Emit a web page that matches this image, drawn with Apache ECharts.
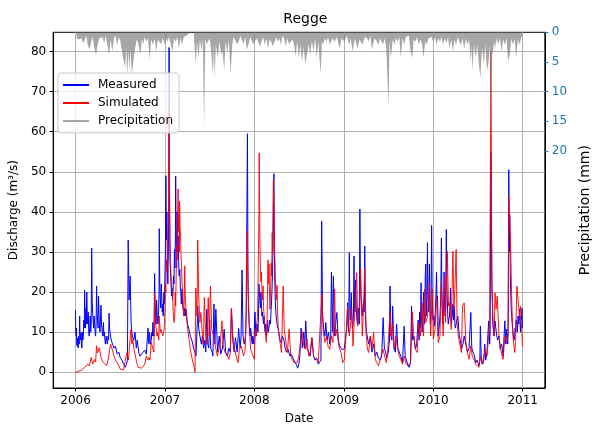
<!DOCTYPE html>
<html lang="en">
<head>
<meta charset="UTF-8">
<title>Regge</title>
<script src="https://cdn.jsdelivr.net/npm/echarts@6/dist/echarts.min.js"></script>
<style>
  html, body { margin: 0; padding: 0; background: #fff; }
  #main { width: 600px; height: 430px; }
</style>
</head>
<body>
<div id="main"></div>
<script>
// day offsets from 2006-01-01
var startDay = Date.UTC(2006, 0, 1);
var yearTicks = ['2006', '2007', '2008', '2009', '2010', '2011'];
var dischargeTicks = [0, 10, 20, 30, 40, 50, 60, 70, 80];
var precipTicks = [0, 5, 10, 15, 20];

// measured discharge (m3/s)
var measured = [[0,15.4],[1,10],[3,9],[4,11],[5,7],[7,6.5],[8,8.5],[10,7],[11,6],[12,8],[13,9],[15,7],[17,14],[18,10],[20,9],[21,8],[23,10],[24,7],[26,6],[28,10],[30,8],[32,9],[34,13],[36,11],[37,20.5],[39,14],[41,11],[43,16],[44,12],[46,20],[48,14],[50,12],[52,15],[54,10],[56,9],[58,11],[60,14],[62,10],[64,12],[66,31],[68,18],[70,15],[72,13],[74,11],[76,14],[78,12],[80,10],[82,9],[84,12],[86,21.5],[88,15],[90,13],[92,11],[94,19],[96,14],[98,11],[100,10],[102,13],[104,16.7],[106,12],[108,11],[109,10],[111,9],[114,12.4],[116,9],[118,10],[120,8],[122,7],[125,9],[127,8],[130,7],[133,9],[135,8],[137,14.7],[139,11],[141,10],[143,9],[146,8],
[151,7],[157,6],[163,6.5],[170,4.5],[177,5],[183,3.5],[190,3],[196,2],[203,1.2],[208,2],[212,3],[215,33],[219,18],[223,24],[227,12],[232,9],[238,8],[243,10],[248,6],[252,8],[258,5],[263,4],[269,4],[276,5],[283,5.5],[289,4.5],[296,11],[298,8],[300,7],[302,10],[304,9],[306,7],[309,8],[312,10],[314,9],[316,12.4],[318,10],[320,9],[321,12],[323,24.6],[325,17],[327,14],[329,12],[331,18],[333,15],[335,13],[337,12],[339,15],[341,20],[342,35.8],[344,22],[346,18],[348,16],[350,22],[352,19],[354,15],[356,17],[358,14],[361,20],[363,17],
[365,24],[367,30],[369,49],[371,33],[373,40],[375,28],[377,22],[379,30],[381,45],[382,81],[384,40],[386,28],[388,25],[390,22],[392,19],[394,21],[396,18],[398,20],[400,24],[402,22],[404,30.6],[406,26],[408,35],[409,48.9],[411,32],[413,26],[415,40],[417,30],[419,34],[421,28],[423,24],[426,25.6],[428,21],[430,20],[432,17],[435,20.7],[437,17],[439,16],[441,15],[443,14],[446,16],[448,14],[451,15.7],[457,12],[462,11],[469,9],[475,8],[482,6],[487,5],[492,4],[497,12],[499,16.5],[503,11],[508,9],[514,7],[518,9],[523,6],[528,8],[532,5],[536,15.7],[540,7],[544,6],[548,13],[552,6],[558,5],[561,4],[565,17],[569,7],[573,15.7],[580,5],[587,9],[593,4.5],[600,6],[607,10.7],[613,5],[620,4],[626,6],[632,5],[637,15.8],[642,8],[648,5],[653,8.6],[660,5],[666,10.9],[672,6],[676,9],[680,25.5],[684,9],[689,7],[694,9],[697,15],[699,33],[702,59.5],[704,28],[705,20],[707,15],[709,12],[711,10],[713,9],[715,11],[717,10],[719,8],[722,7],[724,9],[726,8],[728,7],
[730,10],[731,13],[733,15],[735,11],[737,9],[739,10],[741,12],[743,11],[745,10],[747,14],[749,22],[751,20],[753,18],[755,16],[757,20],[759,17],[761,14],[763,15],[766,13],[768,12],[770,14],[772,11],[775,10],[777,12],[779,9],[782,10],[784,13],[786,11],[788,10],[791,10],[793,13],[796,12],[798,15],[800,17],[802,20],[804,24],[806,30],[808,38],[810,49.5],[812,30],[814,22],[816,17],[819,14],[821,13],[824,11.5],[827,11],[830,10],[835,8],[840,7.4],[845,9],[851,8],[856,6],[861,5],[868,5.7],[875,4],[881,4.5],[888,3.5],[895,2.5],[901,2],[907,1],[912,2],[916,4],[921,11],[926,6],[932,10],[936,6],[940,12.8],[945,6],[952,5],[958,4],[965,8.6],[972,4],[978,3],[985,3.5],[991,2],[998,2.4],[1002,3],[1005,37.7],[1009,14],[1013,11],[1018,9],[1022,12.4],[1027,8],[1033,10],[1038,7],[1042,9],[1045,25],[1049,10],[1053,24],[1057,9],[1062,12],[1067,14.9],[1073,8],[1078,6.6],[1084,6],[1091,5.5],
[1098,6],[1104,9],[1107,11],[1109,13],[1111,17.3],[1113,12],[1115,10],[1116,14],[1118,29.8],[1120,17],[1122,13],[1124,15],[1126,19.8],[1128,14],[1131,11],[1133,12],[1135,14],[1137,29],[1139,19],[1141,15],[1142,18],[1144,23],[1146,16],[1149,13],[1151,12],[1153,14],[1155,16],[1157,13],[1159,12],[1161,40.7],[1163,25],[1165,20],[1167,16],[1169,15],[1171,14],[1173,16],[1176,18],[1178,15],[1180,20],[1181,31.5],[1183,16],[1185,12],[1188,10],[1191,9],[1197,7],[1204,9],[1210,5],[1217,7],[1224,4],[1230,5],[1237,3.5],[1244,3],[1250,4],[1256,13.6],[1261,6],[1266,5],[1271,3.5],[1277,5],[1282,8],[1284,21.5],[1288,9],[1292,8],[1295,16.5],[1300,6],[1306,5],[1311,12],[1316,6],[1322,5.7],[1328,4],[1335,2.4],[1342,11.5],[1346,4],[1351,3],[1356,2],[1362,1.2],[1368,2.4],[1372,16.5],[1376,8],[1381,9],[1388,5.7],[1393,7],[1399,13],[1401,10],[1403,8],[1405,15],[1407,11],[1409,14],[1411,22.3],[1413,13],[1415,10],[1417,12],[1419,15],[1421,20],[1423,14],[1425,12],[1427,16],[1428,24],[1430,27],[1432,17],[1433,14],[1435,18],[1437,32.3],[1439,20],[1441,15],[1443,18],[1445,27],[1447,16],[1449,12],[1451,15],[1452,22],[1454,36.6],[1456,20],[1458,15],[1460,13],
[1463,14],[1465,11.5],[1467,13],[1470,16],[1472,20],[1474,25],[1476,18],[1478,19],[1480,13],[1481,9],[1484,11],[1486,12],[1488,14],[1491,18],[1494,33.5],[1496,20],[1498,15],[1500,13],[1501,12],[1503,16],[1505,25],[1507,17],[1509,14],[1511,16],[1512,22],[1514,35.6],[1516,22],[1518,18],[1520,14],[1522,12],[1524,13],[1527,14],[1529,16],[1531,21],[1533,15],[1535,12],[1538,14],[1541,17],[1544,13],[1547,16.5],[1549,12],[1551,11],[1557,13],[1561,14],[1567,9],[1571,8],[1576,5.7],[1582,7],[1587,9],[1594,7],[1600,5],[1607,6],[1614,14.9],[1618,6],[1623,5],[1627,4.5],[1634,2.4],[1640,3],[1647,1.6],[1651,3],[1653,11.5],[1657,3],[1663,2],[1667,3],[1671,7],[1675,3],[1680,5],[1687,12.8],[1691,7],[1693,10],[1696,55],[1700,22],[1704,12],[1709,9],[1713,12.8],[1718,10],[1723,8],[1729,9],[1734,5.7],[1740,7],[1746,4],[1753,12.8],[1757,7],[1760,10.7],[1765,7],[1767,15],[1769,50.5],[1771,30],[1773,39.3],[1775,25],[1777,20],[1779,16],[1781,14],[1783,12],[1786,10],[1788,9],[1791,8],[1793,9],[1795,11],[1797,10],[1799,13],[1802,12],[1804,10],[1807,14],[1809,12],[1811,13],[1813,15.7],[1815,12],[1817,10],[1819,14],[1821,13],[1823,16],[1825,11]];

// simulated discharge (m3/s)
var simulated = [[0,0],[11,0.2],[24,0.5],[37,1.2],[44,1.5],[50,2],[57,1.5],[64,3.7],[70,2],[77,3.2],[82,2.5],[86,6.6],[90,4.8],[97,6.1],[104,3.7],[109,3],[114,2.4],[121,2],[127,1.6],[133,3],[137,3.2],[143,7],[150,5.7],[157,4],[163,3],[170,2.4],[177,1.5],[183,0.75],[190,0.6],[196,0.6],[203,0.8],[210,4.9],[216,3],[220,6.1],[226,10.7],[230,7],[234,8.2],[238,6],[243,5.7],[250,2.4],[256,1.2],[263,1.2],[269,1],[276,1.2],[283,2],[289,4],[295,3],[299,3.7],[304,3],[309,7.4],[316,7.4],[320,5],[323,19.8],[327,12],[329,12.4],[333,9],[336,9.9],[340,8],[342,14],[346,10],[349,10.7],[356,9],[362,10.7],
[365,15.7],[367,22],[369,19.8],[371,28],[373,25],[376,31.5],[378,36],[380,40.6],[382,66],[384,45],[386,32],[388,27],[390,24],[393,21],[396,19.8],[399,15],[402,12.4],[405,14],[407,20],[409,16.5],[411,24],[413,31.5],[415,28],[417,39],[419,45.7],[421,35],[422,39],[424,30],[425,42.6],[427,36],[429,34],[431,29],[433,26.5],[435,22],[438,19.8],[440,16],[442,14],[444,18],[446,26.5],[448,19],[451,15.7],[458,10.7],[465,7.4],[471,4.9],[478,2.8],[485,1.2],[488,0],[491,21],[496,14],[499,33],[503,19],[508,12.4],[512,14.9],[518,9],[522,7],[526,18.6],[532,9],[536,7],[542,18.6],[546,9],[551,21.5],[556,10.7],[564,9],[571,6.5],[579,4],[585,5.7],[591,7],[598,12.8],[603,6.5],[611,4.9],[620,4],[626,3.2],[632,5],[636,15.9],[642,9],[650,5.7],[656,4],[664,2.4],[669,5.7],[677,6.5],[686,4],[693,5.7],[697,15.3],[699,35.2],[703,24],[709,12.4],[715,5.7],[722,4.5],
[730,3.2],[733,8],[735,10.7],[738,9],[740,12],[743,14],[745,20],[747,30.6],[749,40],[750,54.7],[752,38],[753,32],[755,26],[757,22.6],[759,25],[761,20.7],[763,18],[766,21.5],[768,16],[770,14],[772,12.4],[775,10],[779,7.4],[782,12],[784,20],[786,28],[788,22],[790,27],[792,20],[794,15.7],[796,19],[799,27.3],[801,24],[803,34.8],[805,30],[806,40],[808,48],[810,40],[812,33],[814,28],[816,24],[818,20],[820,18],[823,21.7],[825,15],[828,10.7],[835,7.4],[841,4.9],[848,21.5],[852,10.7],[859,10.7],[865,4.9],[872,10.7],[879,4],[885,3.2],[892,2.4],[899,2],[905,2.4],[912,4],[921,9],[925,10.3],[932,6.5],[938,5.7],[945,8.3],[952,4],[958,4.9],[965,8.6],[972,4],[978,3.6],[985,3.2],[991,2.4],[998,2.4],[1006,19.4],[1011,10.7],[1018,7.4],[1025,9],[1031,6.5],[1038,5.7],[1045,9],[1051,7.4],[1058,20.7],[1062,9],[1067,10.7],[1075,6.5],[1084,4.9],[1091,2.4],
[1098,3.2],[1104,9],[1111,16.5],[1118,9],[1122,11.5],[1128,15.7],[1133,6.5],[1141,16.5],[1148,24.8],[1153,11.5],[1159,16.5],[1164,25.6],[1171,9],[1177,18.2],[1181,26],[1187,9],[1192,5.7],[1197,4.9],[1204,9],[1210,5.7],[1217,9.9],[1224,3.2],[1230,2.4],[1237,1.6],[1244,3.2],[1249,3.2],[1256,5.7],[1262,4],[1269,2.4],[1275,5.7],[1284,14.9],[1288,9],[1295,12],[1302,5.7],[1308,9],[1315,5.7],[1322,4],[1328,3.2],[1335,2],[1342,4],[1348,2.4],[1355,1.6],[1361,1.2],[1368,2.4],[1375,14.9],[1381,9],[1388,5.7],[1395,4.9],[1401,12.4],[1408,9],[1415,17.3],[1421,9],[1425,20.7],[1430,12.4],[1437,14],[1441,17.3],[1445,22.3],[1450,9],[1457,20.7],
[1461,8.3],[1468,10.7],[1474,19],[1481,7.4],[1488,9],[1494,22.3],[1501,9],[1507,24],[1511,12.4],[1518,30.2],[1523,16.5],[1527,17.3],[1534,10.7],[1541,30.2],[1545,15.7],[1549,20.7],[1554,30.6],[1558,12.4],[1563,9],[1571,6.5],[1576,4.9],[1580,16.5],[1587,17.3],[1594,7.4],[1600,4.9],[1607,3.2],[1614,6.5],[1620,4],[1627,3.2],[1634,2],[1640,1.6],[1647,1.2],[1653,4],[1660,2],[1667,2.4],[1673,5.7],[1680,4],[1687,9],[1691,12.4],[1696,80],[1700,23],[1704,14],[1709,9],[1713,19.8],[1717,15.7],[1722,19],[1729,9],[1736,5.7],[1742,4],[1746,3.2],[1753,9],[1760,7.4],[1766,9],[1769,43.9],[1773,38],[1777,30.6],[1781,18],[1786,9],[1793,4.9],[1797,7.4],[1802,21.5],[1807,18],[1813,14],[1817,16.5],[1822,10.3],[1825,6.4]];

// precipitation (mm)
var precipitation = [[4,1.0],[13,1.2],[24,1.0],[31,1.8],[37,1.3],[44,0.6],[50,2.1],[57,2.9],[64,1.6],[70,0.8],[77,2.7],[84,3.8],[90,2.1],[97,1.0],[104,1.3],[110,0.8],[117,1.8],[123,0.6],[130,2.1],[137,3.8],[143,1.2],[150,3.2],[157,1.0],[163,0.5],[170,2.1],[177,0.8],[183,1.5],[190,3.2],[196,4.6],[203,6.0],[207,2.5],[212,7.1],[216,3.0],[220,6.5],[224,2.8],[230,7.1],[236,4.9],[243,2.7],[250,1.2],[256,1.8],[265,3.8],[271,1.0],[276,2.1],[283,0.8],[289,1.6],[296,1.0],[303,4.6],[309,1.2],[316,2.1],[323,1.0],[329,3.2],[336,1.2],[342,1.6],[349,2.0],[356,1.0],
[365,2.1],[370,1.0],[376,1.6],[382,0.8],[389,2.0],[396,3.2],[402,1.0],[409,1.6],[415,0.8],[422,2.7],[429,1.0],[435,2.1],[442,0.8],[449,1.0],[455,0.5],[462,0.4],[469,0],[475,0],[482,0],[488,0.3],[491,5.4],[496,1.5],[502,4.3],[508,1.2],[515,3.2],[520,1.0],[525,16],[530,1.0],[535,2.0],[542,2.1],[548,1.0],[554,3.2],[561,7.1],[565,2.0],[568,8],[573,2.0],[581,4.3],[588,1.5],[595,3.8],[600,3.0],[607,6.3],[613,1.5],[620,3.5],[626,1.2],[633,7.1],[640,2.1],[646,0.8],[653,1.0],[660,2.0],[666,1.6],[673,0.6],[680,1.3],[686,2.0],[693,0.8],[699,2.9],[706,2.1],[713,0.8],[719,1.0],[726,2.0],
[733,2.1],[739,1.0],[746,1.6],[753,2.4],[759,1.6],[766,0.8],[772,2.1],[779,1.0],[786,2.7],[792,1.2],[799,1.6],[806,2.4],[812,2.1],[819,0.8],[826,1.6],[832,1.0],[839,2.1],[845,0.6],[852,1.0],[859,2.4],[865,1.0],[872,2.0],[879,2.1],[885,1.2],[892,2.0],[899,4.0],[905,1.5],[912,4.3],[918,2.0],[925,4.9],[932,2.4],[938,5.4],[945,5.2],[952,2.0],[958,3.8],[965,1.5],[972,3.2],[978,1.0],[985,4.3],[991,1.5],[1001,7.1],[1006,1.5],[1011,2.1],[1018,1.0],[1025,1.6],[1031,0.8],[1038,2.1],[1049,1.0],[1058,1.6],[1067,0.8],[1078,2.7],[1087,1.0],
[1098,1.6],[1107,0.6],[1118,2.1],[1124,1.0],[1131,3.2],[1141,1.0],[1151,2.7],[1160,1.2],[1171,2.1],[1181,0.8],[1191,1.0],[1197,1.6],[1204,0.6],[1210,2.9],[1221,1.0],[1230,1.5],[1237,2.1],[1244,1.0],[1250,1.6],[1255,2.1],[1262,1.0],[1269,2.7],[1278,12.7],[1282,1.5],[1288,4.3],[1295,1.2],[1302,2.1],[1308,1.0],[1315,1.6],[1322,0.8],[1328,4.3],[1335,1.0],[1342,2.1],[1348,0.8],[1355,1.0],[1361,0.6],[1368,3.2],[1375,4.3],[1381,1.2],[1388,1.6],[1395,0.8],[1401,2.1],[1408,1.2],[1415,2.0],[1421,4.3],[1428,1.5],[1434,2.1],[1441,1.0],[1448,1.0],[1454,0.8],
[1461,1.6],[1468,0.8],[1474,2.1],[1481,1.0],[1488,1.6],[1494,0.8],[1501,2.1],[1507,1.0],[1514,1.8],[1521,0.8],[1527,2.7],[1534,1.2],[1541,3.2],[1547,1.2],[1554,2.1],[1561,0.8],[1567,1.6],[1574,2.1],[1580,1.0],[1587,2.7],[1594,1.0],[1600,2.1],[1607,1.2],[1614,4.9],[1618,2.0],[1620,6.5],[1627,2.1],[1634,4.3],[1640,2.0],[1647,5.4],[1653,7.7],[1660,2.5],[1667,5.4],[1673,2.0],[1680,6.5],[1687,4.9],[1692,2.0],[1696,17],[1700,3.0],[1704,3.8],[1709,1.5],[1713,2.7],[1720,1.0],[1726,2.1],[1733,1.0],[1740,3.2],[1746,1.2],[1753,2.1],[1760,1.0],[1766,4.9],[1773,3.8],[1780,1.0],[1786,2.1],[1793,1.0],[1799,4.3],[1806,1.2],[1813,2.1],[1819,1.0],[1825,0.5]];

function toTime(d) { return startDay + d * 86400000; }
function toSeries(arr) { return arr.map(function (p) { return [toTime(p[0]), p[1]]; }); }
var yearTimes = yearTicks.map(function (y) { return Date.UTC(+y, 0, 1); });

var chart = echarts.init(document.getElementById('main'), null, { renderer: 'canvas' });
var font = 'DejaVu Sans';

var option = {
    animation: false,
    backgroundColor: '#fff',
    textStyle: { fontFamily: font },
    title: {
        text: 'Regge',
        left: 305.4,
        textAlign: 'center',
        top: 12,
        padding: 0,
        textStyle: { fontSize: 14, fontWeight: 'normal', color: '#000', fontFamily: font }
    },
    legend: {
        orient: 'vertical',
        left: 58,
        top: 73,
        padding: [6, 6, 6, 5],
        itemGap: 6,
        itemWidth: 26,
        itemHeight: 2,
        icon: 'rect',
        backgroundColor: 'rgba(255,255,255,0.8)',
        borderColor: '#cccccc',
        borderWidth: 1,
        borderRadius: 3,
        lineStyle: { width: 1.5 },
        textStyle: { fontSize: 12, color: '#000', fontFamily: font, padding: [0, 0, 0, 4] },
        data: [
            { name: 'Measured' },
            { name: 'Simulated' },
            { name: 'Precipitation', itemStyle: { color: '#a6a6a6' }, lineStyle: { color: '#a6a6a6', width: 1.5, opacity: 1 } }
        ]
    },
    grid: {
        left: 52.5, top: 32.3, width: 505.2, height: 356.7,
        show: true, borderColor: '#000', borderWidth: 1, backgroundColor: 'transparent'
    },
    xAxis: {
        type: 'value',
        min: toTime(-91.25),
        max: toTime(1916.25),
        name: 'Date',
        nameLocation: 'middle',
        nameGap: 25,
        nameTextStyle: { fontSize: 12, color: '#000', fontFamily: font },
        axisLine: { onZero: false, lineStyle: { color: '#000', width: 1 } },
        axisTick: { customValues: yearTimes, length: 3.5, lineStyle: { color: '#000' } },
        axisLabel: {
            customValues: yearTimes,
            fontSize: 12, color: '#000', margin: 7,
            formatter: function (v) { return String(new Date(v).getUTCFullYear()); }
        },
        splitLine: { show: true, lineStyle: { color: '#b0b0b0', width: 1 } }
    },
    yAxis: [{
        type: 'value',
        min: -3.95,
        max: 84.8,
        name: 'Discharge (m³/s)',
        nameLocation: 'middle',
        nameGap: 32,
        nameTextStyle: { fontSize: 12, color: '#000', fontFamily: font },
        axisLine: { show: true, onZero: false, lineStyle: { color: '#000' } },
        axisTick: { show: true, customValues: dischargeTicks, length: 3.5, lineStyle: { color: '#000' } },
        axisLabel: { customValues: dischargeTicks, fontSize: 12, color: '#000', margin: 7 },
        splitLine: { show: true, lineStyle: { color: '#b0b0b0', width: 1 } }
    }, {
        type: 'value',
        position: 'right',
        inverse: true,
        min: 0,
        max: 60,
        name: 'Precipitation (mm)',
        nameLocation: 'middle',
        nameGap: 30,
        nameTextStyle: { fontSize: 14, color: '#000', fontFamily: font },
        axisLine: { show: true, onZero: false, lineStyle: { color: '#000' } },
        axisTick: { show: true, customValues: precipTicks, length: 3.5, lineStyle: { color: '#1f77b4' } },
        axisLabel: { customValues: precipTicks, fontSize: 12, color: '#1f77b4', margin: 7 },
        splitLine: { show: false }
    }],
    series: [{
        name: 'Measured',
        type: 'line',
        yAxisIndex: 0,
        showSymbol: false,
        symbol: 'none',
        color: '#0000ff',
        lineStyle: { width: 1, color: '#0000ff' },
        data: toSeries(measured),
        z: 2
    }, {
        name: 'Simulated',
        type: 'line',
        yAxisIndex: 0,
        showSymbol: false,
        symbol: 'none',
        color: '#ff0000',
        lineStyle: { width: 1, color: '#ff0000', opacity: 0.9 },
        data: toSeries(simulated),
        z: 3
    }, {
        name: 'Precipitation',
        type: 'line',
        yAxisIndex: 1,
        showSymbol: false,
        symbol: 'none',
        color: '#808080',
        lineStyle: { width: 0 },
        areaStyle: { color: '#808080', opacity: 0.7 },
        data: toSeries(precipitation),
        z: 4
    }]
};
chart.setOption(option);
</script>
</body>
</html>
